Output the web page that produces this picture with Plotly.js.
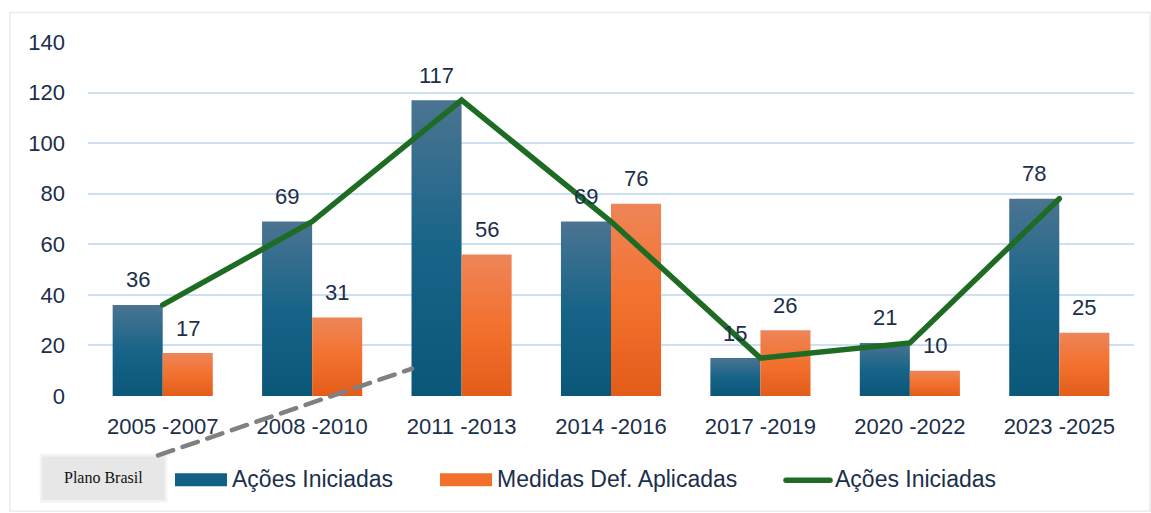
<!DOCTYPE html>
<html>
<head>
<meta charset="utf-8">
<script src="https://cdn.plot.ly/plotly-3.0.1.min.js"></script>
<style>
html,body{margin:0;padding:0;background:#fff;}
#chart{width:1151px;height:513px;}
</style>
</head>
<body>
<div id="chart"></div>
<script>
// ---- data ----
const categories = ["2005 -2007","2008 -2010","2011 -2013","2014 -2016","2017 -2019","2020 -2022","2023 -2025"];
const acoesIniciadas = [36, 69, 117, 69, 15, 21, 78];
const medidasAplicadas = [17, 31, 56, 76, 26, 10, 25];
const yTicks = [0, 20, 40, 60, 80, 100, 120, 140];
const legendNames = ["Ações Iniciadas", "Medidas Def. Aplicadas", "Ações Iniciadas"];
const watermark = "Plano Brasil";

// ---- layout geometry (pixels) ----
const W = 1151, H = 513;
const L = 88, R = 1134, T = 41.5, B = 396.5;
const px = x => (x - L) / (R - L);
const py = y => (B - y) / (B - T);

const textColor = "#1b2f4b";
const font = "Liberation Sans, Arial, sans-serif";

const traces = [
  {type: "bar", x: categories, y: acoesIniciadas, name: legendNames[0],
   marker: {color: "#146388"}, hoverinfo: "skip", showlegend: false},
  {type: "bar", x: categories, y: medidasAplicadas, name: legendNames[1],
   marker: {color: "#f3712e"}, hoverinfo: "skip", showlegend: false},
  {type: "scatter", mode: "lines", x: categories, y: acoesIniciadas, name: legendNames[2],
   line: {color: "#1e6b24", width: 5.5}, hoverinfo: "skip", showlegend: false}
];

const annotations = [];
categories.forEach((c, i) => {
  annotations.push({x: c, y: acoesIniciadas[i], xref: "x", yref: "y", text: String(acoesIniciadas[i]),
    showarrow: false, xshift: -25, yshift: 25, yanchor: "middle", xanchor: "center",
    font: {family: font, size: 22, color: textColor}});
  annotations.push({x: c, y: medidasAplicadas[i], xref: "x", yref: "y", text: String(medidasAplicadas[i]),
    showarrow: false, xshift: 25, yshift: 25, yanchor: "middle", xanchor: "center",
    font: {family: font, size: 22, color: textColor}});
});

// custom legend text
const legFont = {family: font, size: 23, color: textColor};
annotations.push({xref: "paper", yref: "paper", x: px(230), y: py(480), text: legendNames[0], showarrow: false, xanchor: "left", yanchor: "middle", font: legFont});
annotations.push({xref: "paper", yref: "paper", x: px(495), y: py(480), text: legendNames[1], showarrow: false, xanchor: "left", yanchor: "middle", font: legFont});
annotations.push({xref: "paper", yref: "paper", x: px(833), y: py(480), text: legendNames[2], showarrow: false, xanchor: "left", yanchor: "middle", font: legFont});
annotations.push({xref: "paper", yref: "paper", x: px(103), y: py(478), text: watermark, showarrow: false, xanchor: "center", yanchor: "middle", font: {family: "Liberation Serif, Times New Roman, serif", size: 16, color: "#111"}});

const shapes = [
  // outer frame
  {type: "rect", xref: "paper", yref: "paper", x0: px(10), x1: px(1150), y0: py(512), y1: py(12),
   line: {color: "#ececec", width: 1.5}, fillcolor: "rgba(0,0,0,0)", layer: "below"},
  // watermark box
  {type: "rect", xref: "paper", yref: "paper", x0: px(41), x1: px(166), y0: py(502), y1: py(456),
   line: {color: "#f3f3f3", width: 2.5}, fillcolor: "#e7e7e7", layer: "above"},
  // dashed pointer
  {type: "line", xref: "paper", yref: "paper", x0: px(158), y0: py(456), x1: px(412), y1: py(369),
   line: {color: "#808080", width: 4.5, dash: "16px,10px"}, layer: "above"},
  // legend swatches
  {type: "rect", xref: "paper", yref: "paper", x0: px(175), x1: px(227), y0: py(487), y1: py(474),
   line: {width: 0}, fillcolor: "#135f85", layer: "above"},
  {type: "rect", xref: "paper", yref: "paper", x0: px(440), x1: px(492), y0: py(487), y1: py(474),
   line: {width: 0}, fillcolor: "#f2702c", layer: "above"},
  {type: "line", xref: "paper", yref: "paper", x0: px(786), x1: px(830), y0: py(481), y1: py(481),
   line: {color: "#1e6b24", width: 5.5}, layer: "above"}
];

const layout = {
  width: W, height: H,
  margin: {l: L, r: W - R, t: T, b: H - B, pad: 0},
  paper_bgcolor: "#ffffff", plot_bgcolor: "#ffffff",
  barmode: "group", bargap: 0.33, bargroupgap: 0,
  showlegend: false,
  xaxis: {type: "category", showgrid: false, zeroline: false, showline: false,
    ticks: "", ticklabelstandoff: 15,
    tickfont: {family: font, size: 22, color: textColor}},
  yaxis: {range: [0, 140], tickvals: yTicks, ticktext: yTicks.map(String),
    showgrid: true, gridcolor: "#cddff2", gridwidth: 2, zeroline: false, showline: false,
    ticks: "", ticklabelstandoff: 22,
    tickfont: {family: font, size: 22, color: textColor}},
  annotations: annotations,
  shapes: shapes
};

Plotly.newPlot("chart", traces, layout, {staticPlot: true, displayModeBar: false}).then(() => {
  const svg = document.querySelector("#chart .main-svg");
  const NS = "http://www.w3.org/2000/svg";
  let defs = svg.querySelector("defs");
  if (!defs) { defs = document.createElementNS(NS, "defs"); svg.insertBefore(defs, svg.firstChild); }
  function grad(id, stops) {
    const g = document.createElementNS(NS, "linearGradient");
    g.setAttribute("id", id);
    g.setAttribute("x1", "0"); g.setAttribute("y1", "0");
    g.setAttribute("x2", "0"); g.setAttribute("y2", "1");
    stops.forEach(s => {
      const st = document.createElementNS(NS, "stop");
      st.setAttribute("offset", s[0]);
      st.setAttribute("stop-color", s[1]);
      g.appendChild(st);
    });
    defs.appendChild(g);
  }
  grad("gBlue", [[0, "#4b7491"], [0.5, "#176488"], [1, "#0a577a"]]);
  grad("gOrange", [[0, "#ee8558"], [0.5, "#f3712e"], [1, "#e35c1a"]]);
  const groups = document.querySelectorAll("#chart .barlayer .trace");
  groups.forEach((g, i) => {
    g.querySelectorAll("path").forEach(p => {
      p.style.fill = i === 0 ? "url(#gBlue)" : "url(#gOrange)";
    });
  });
  document.querySelectorAll("#chart .scatterlayer .js-line").forEach(p => {
    p.style.strokeLinejoin = "miter";
    p.style.strokeLinecap = "round";
  });
  document.querySelectorAll("#chart .shapelayer path").forEach(p => {
    p.style.strokeLinecap = "round";
  });
});
</script>
</body>
</html>
